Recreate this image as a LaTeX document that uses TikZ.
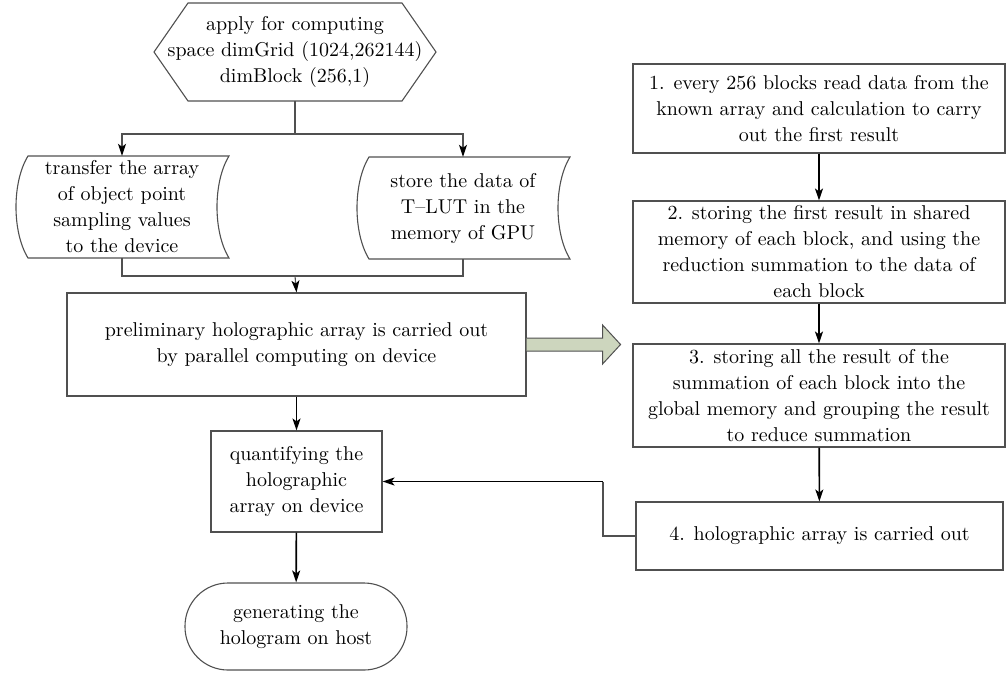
\documentclass[tikz,border=0pt]{standalone}
\usepackage{fontspec}
\setmainfont{lmroman10-regular.otf}
\usepgflibrary{arrows.meta}
\usetikzlibrary{calc}

\definecolor{boxline}{RGB}{80,80,80}
\definecolor{bigarrow}{RGB}{205,214,190}

% curved data outline round a named node
\newcommand{\storeshape}[1]{%
	\draw[boxline,line width=1.1pt] ($(#1.center)+(-94,-51)$) -- ($(#1.center)+(107,-51)$)
		.. controls ($(#1.center)+(91,-25)$) and ($(#1.center)+(91,25)$) .. ($(#1.center)+(107,51)$)
		-- ($(#1.center)+(-94,51)$)
		.. controls ($(#1.center)+(-110,25)$) and ($(#1.center)+(-110,-25)$) .. cycle;}

\begin{document}
\begin{tikzpicture}
		[x=1pt,y=-1pt,
		every node/.style={font=\fontsize{20}{26}\selectfont,align=center,inner sep=0pt},
		plain/.style={minimum height=102pt},
		box/.style={draw=boxline,line width=1.1pt},
		link/.style={draw=boxline,line width=1.1pt},
		flow/.style={draw=black,line width=1.6pt,-{Stealth[length=12pt,width=8pt,inset=3pt]}},
		tip/.style={-{Stealth[length=12pt,width=8pt,inset=3pt,color=black]}}]
	\useasboundingbox (0,0) rectangle (1006,673);

	% left column
	\node[minimum height=98pt] (apply) at (295,52)
		{apply for computing\\space dimGrid (1024,262144)\\dimBlock (256,1)};
	\draw[box] ($(apply.center)+(-107,-49)$) -- ($(apply.center)+(107,-49)$) -- ($(apply.center)+(141,0)$)
		-- ($(apply.center)+(107,49)$) -- ($(apply.center)+(-107,49)$) -- ($(apply.center)+(-141,0)$) -- cycle;

	\node[plain] (transfer) at (122,207) {transfer the array\\of object point\\sampling values\\to the device};
	\node[plain] (lut) at (463,208) {store the data of\\T--LUT in the\\memory of GPU};
	\storeshape{transfer}
	\storeshape{lut}

	\node[box,minimum width=459pt,minimum height=103pt] (prelim) at (296.5,344.5)
		{preliminary holographic array is carried out\\by parallel computing on device};
	\node[box,minimum width=171pt,minimum height=101pt] (quant) at (296.5,481.5)
		{quantifying the\\holographic\\array on device};
	\node[box,rounded corners=43pt,minimum width=222pt,minimum height=87pt] (hologram) at (296,626.5)
		{generating the\\hologram on host};

	% right column
	\node[box,minimum width=372pt,minimum height=89pt] (step1) at (819,108.5)
		{1. every 256 blocks read data from the\\known array and calculation to carry\\out the first result};
	\node[box,minimum width=372pt,minimum height=102pt] (step2) at (819,252)
		{2. storing the first result in shared\\memory of each block, and using the\\reduction summation to the data of\\each block};
	\node[box,minimum width=372pt,minimum height=103pt] (step3) at (819,395.5)
		{3. storing all the result of the\\summation of each block into the\\global memory and grouping the result\\to reduce summation};
	\node[box,minimum width=367pt,minimum height=68pt] (step4) at (819.5,536)
		{4. holographic array is carried out};

	\coordinate (split) at (295,134);
	\coordinate (join) at (295,276);
	\coordinate (turn) at (603,481.5);

	\draw[link] ($(apply.center)+(0,49)$) -- (split);
	\draw[link,tip] (split) -| (transfer.north);
	\draw[link,tip] (split) -| (lut.north);
	\draw[link] (transfer.south) |- (join) -| (lut.south);
	\draw[link,tip] (join) -- (prelim.north);
	\draw[flow] (prelim) -- (quant);
	\draw[flow] (quant) -- (hologram);

	\draw[flow] (step1) -- (step2);
	\draw[flow] (step2) -- (step3);
	\draw[flow] (step3) -- (step4);
	\draw[link] (step4.west) -| (turn);
	\draw[flow] (turn) -- (quant.east);

	% wide arrow to the right column
	\draw[draw=boxline,fill=bigarrow,line width=1pt] ($(prelim.east)+(0,-6.5)$) -- ++(76,0) -- ++(0,-13)
		-- ($(prelim.east)+(94,0)$) -- ($(prelim.east)+(76,19.5)$) -- ++(0,-13) -- ($(prelim.east)+(0,6.5)$);
\end{tikzpicture}
\end{document}
